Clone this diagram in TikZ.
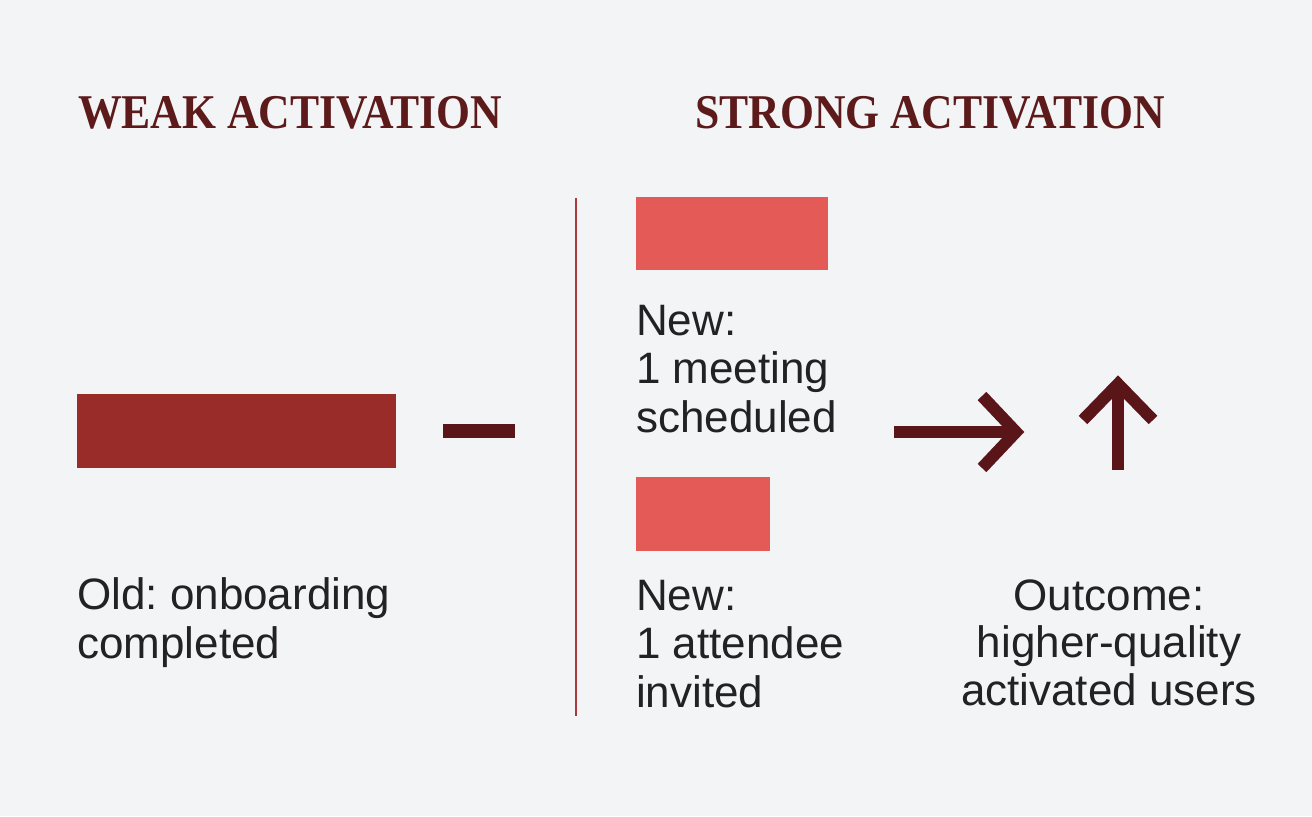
\documentclass[tikz,border=0pt]{standalone}
\usepackage{fontspec}
\setmainfont{Liberation Sans}
\newfontfamily\titlefont[FakeStretch=0.9]{Liberation Serif}
\frenchspacing
\definecolor{bgc}{HTML}{F3F4F6}
\definecolor{titlec}{HTML}{5C1A1B}
\definecolor{darkbar}{HTML}{992B29}
\definecolor{markc}{HTML}{5A1518}
\definecolor{pinkbar}{HTML}{E35A57}
\definecolor{divc}{HTML}{A83A3A}
\definecolor{txtc}{HTML}{222222}
\tikzset{
  ttl/.style={anchor=base west, inner sep=0pt, text=titlec, font=\titlefont\bfseries\fontsize{48.5bp}{50bp}\selectfont},
  body/.style={anchor=base west, inner sep=0pt, text=txtc, align=left, font=\fontsize{44bp}{48.5bp}\selectfont},
  bodyc/.style={anchor=base, inner sep=0pt, text=txtc, align=center, font=\fontsize{44bp}{47.5bp}\selectfont},
  barbox/.style={anchor=north west, inner sep=0pt, outer sep=0pt, draw=none},
  arrowstroke/.style={draw=markc, line width=12bp, miter limit=10},
}
\begin{document}
\begin{tikzpicture}[x=1bp, y=-1bp]
\fill[bgc] (0,0) rectangle (1312,816);
\useasboundingbox (0,0) rectangle (1312,816);
% titles
\node[ttl] (tweak) at (78,128) {WEAK ACTIVATION};
\node[ttl] (tstrong) at (695,128) {STRONG ACTIVATION};
% left
\node[barbox, fill=darkbar, minimum width=319bp, minimum height=74bp] (oldbar) at (77,394) {};
\node[barbox, fill=markc, minimum width=72bp, minimum height=14bp] (dash) at (443,424) {};
\node[body] (oldtxt) at (77,658) {Old: onboarding\\completed};
% divider
\coordinate (dtop) at (576,198);
\coordinate (dbot) at (576,716);
\draw[divc, line width=1.6bp] (dtop) -- (dbot);
% right bars
\node[barbox, fill=pinkbar, minimum width=192bp, minimum height=73bp] (bar1) at (636,197) {};
\node[barbox, fill=pinkbar, minimum width=134bp, minimum height=74bp] (bar2) at (636,477) {};
\node[body] (new1) at (636,432) {New:\\1 meeting\\scheduled};
\node[body] (new2) at (636,707) {New:\\1 attendee\\invited};
% arrows
\coordinate (ra) at (894,432);
\coordinate (rb) at (1016,432);
\draw[arrowstroke] (ra) -- (rb);
\draw[arrowstroke] (982,396) -- (1016,432) -- (982,468);
\coordinate (ua) at (1118,470);
\coordinate (ub) at (1118,384);
\draw[arrowstroke] (ua) -- (ub);
\draw[arrowstroke] (1083,420) -- (1118,384) -- (1153,420);
% outcome
\node[bodyc] (out) at (1109,705) {Outcome:\\higher-quality\\activated users};
\end{tikzpicture}
\end{document}
